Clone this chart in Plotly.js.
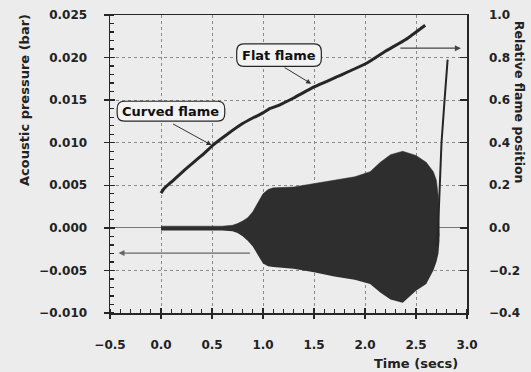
<!DOCTYPE html>
<html><head><meta charset="utf-8">
<script src="https://cdn.plot.ly/plotly-3.0.1.min.js"></script>
<style>html,body{margin:0;padding:0;background:#ececec;}</style>
</head><body>
<div id="chart" style="width:531px;height:372px;"></div>
<script>
// Flame position (right axis)
const flameTime = [0.00, 0.03, 0.10, 0.25, 0.40, 0.51, 0.65, 0.80, 0.90, 1.00, 1.07, 1.16, 1.30, 1.50, 1.75, 2.01, 2.20, 2.40, 2.59];
const flamePos  = [0.163, 0.185, 0.215, 0.28, 0.34, 0.389, 0.44, 0.49, 0.516, 0.54, 0.561, 0.577, 0.61, 0.662, 0.715, 0.772, 0.83, 0.885, 0.952];
// Flashback segment (right axis)
const jumpTime = [2.71, 2.73, 2.75, 2.78, 2.81];
const jumpPos  = [-0.08, 0.2, 0.4, 0.6, 0.79];
// Acoustic pressure envelope (left axis)
const pTime   = [0.00, 0.20, 0.40, 0.60, 0.70, 0.75, 0.80, 0.85, 0.90, 0.95, 1.00, 1.05, 1.10, 1.30, 1.50, 1.70, 1.90, 2.05, 2.15, 2.25, 2.37, 2.50, 2.60, 2.67, 2.70, 2.72, 2.73];
const pTop    = [0.0002, 0.0002, 0.0002, 0.0002, 0.0003, 0.0005, 0.0008, 0.0012, 0.0019, 0.0029, 0.0040, 0.0045, 0.0047, 0.0048, 0.0052, 0.0056, 0.0060, 0.0066, 0.0077, 0.0086, 0.0090, 0.0085, 0.0077, 0.0066, 0.0056, 0.0035, -0.0010];
const pBottom = [-0.0003, -0.0003, -0.0003, -0.0003, -0.0004, -0.0006, -0.0010, -0.0015, -0.0022, -0.0032, -0.0042, -0.0045, -0.0046, -0.0048, -0.0052, -0.0057, -0.0061, -0.0066, -0.0076, -0.0084, -0.0088, -0.0074, -0.0066, -0.0050, -0.0040, -0.0030, -0.0015];

const labels = {curved: 'Curved flame', flat: 'Flat flame'};

function rr(x0,x1,y0,y1,rx,ry){
  return `M${x0+rx},${y0} L${x1-rx},${y0} Q${x1},${y0} ${x1},${y0+ry} L${x1},${y1-ry} Q${x1},${y1} ${x1-rx},${y1} L${x0+rx},${y1} Q${x0},${y1} ${x0},${y1-ry} L${x0},${y0+ry} Q${x0},${y0} ${x0+rx},${y0} Z`;
}

const ink = '#262626';
const traces = [
  {x: pTime, y: pBottom, mode:'lines', line:{width:0, color:'#2e2e2e'}, hoverinfo:'skip', xaxis:'x', yaxis:'y'},
  {x: pTime, y: pTop, mode:'lines', line:{width:0.5, color:'#2e2e2e'}, fill:'tonexty', fillcolor:'#2e2e2e', hoverinfo:'skip', xaxis:'x', yaxis:'y'},
  {x: flameTime, y: flamePos, mode:'lines', line:{width:3, color:ink, shape:'spline', smoothing:0.4}, yaxis:'y2', hoverinfo:'skip'},
  {x: jumpTime, y: jumpPos, mode:'lines', line:{width:2, color:ink}, yaxis:'y2', hoverinfo:'skip'},
  {x:[-1], y:[-1], mode:'markers', marker:{opacity:0}, xaxis:'x2', yaxis:'y3', hoverinfo:'skip'}
];

const font = {family:'DejaVu Sans', size:12, color:'#222', weight:'bold'};
const layout = {
  width:531, height:372,
  margin:{l:110, r:64, t:15, b:59},
  paper_bgcolor:'#ececec', plot_bgcolor:'#ececec',
  showlegend:false,
  font: font,
  xaxis:{range:[-0.5,3.0], tick0:-0.5, dtick:0.5, tickformat:'.1f', ticks:'outside', ticklen:4, tickwidth:1.3, tickcolor:ink,
         showline:true, linecolor:ink, linewidth:1.5, mirror:true, zeroline:false,
         showgrid:true, gridcolor:'#8a8a8a', griddash:'dot', gridwidth:1,
         minor:{dtick:0.1, ticks:'inside', ticklen:4, tickcolor:ink, showgrid:false},
         ticklabelstandoff:16, tickfont:font},
  xaxis2:{range:[-0.5,3.0], overlaying:'x', anchor:'y', tick0:-0.5, dtick:0.5, ticks:'inside', ticklen:5, tickwidth:1.3, tickcolor:ink,
          showticklabels:false, showgrid:false, showline:false, zeroline:false},
  yaxis:{range:[-0.01,0.025], dtick:0.005, tickformat:'.3f', ticks:'outside', ticklen:5, tickwidth:1.3, tickcolor:ink,
         showline:true, linecolor:ink, linewidth:1.5, zeroline:true, zerolinecolor:'#777', zerolinewidth:1,
         showgrid:true, gridcolor:'#8a8a8a', griddash:'dot', gridwidth:1,
         minor:{dtick:0.001, ticks:'inside', ticklen:4, tickcolor:ink, showgrid:false},
         ticklabelstandoff:14, tickfont:font},
  yaxis3:{range:[-0.01,0.025], overlaying:'y', anchor:'x', side:'left', dtick:0.005, ticks:'inside', ticklen:5, tickwidth:1.3, tickcolor:ink,
          showticklabels:false, showgrid:false, showline:false, zeroline:false},
  yaxis2:{range:[-0.4,1.0], overlaying:'y', side:'right', anchor:'x', dtick:0.2, tickformat:'.1f', ticks:'inside', ticklen:7, tickwidth:1.3, tickcolor:ink,
          showline:true, linecolor:ink, linewidth:1.5, showgrid:false, zeroline:false, ticklabelstandoff:18, tickfont:font},
  shapes:[
    {type:'path', xref:'x', yref:'y', path: rr(-0.43, 0.625, 0.01253, 0.01487, 0.07, 0.0009), fillcolor:'#f3f3f3', line:{color:ink, width:1.2}, layer:'above'},
    {type:'path', xref:'x', yref:'y', path: rr(0.742, 1.572, 0.01897, 0.0216, 0.07, 0.0009), fillcolor:'#f3f3f3', line:{color:ink, width:1.2}, layer:'above'}
  ],
  annotations:[
    {xref:'x', yref:'y', x:0.0975, y:0.0137, text:labels.curved, showarrow:false, font:{family:'DejaVu Sans', size:13, color:'#111', weight:'bold'}},
    {xref:'x', yref:'y', x:1.157, y:0.02028, text:labels.flat, showarrow:false, font:{family:'DejaVu Sans', size:13, color:'#111', weight:'bold'}},
    {xref:'x', yref:'y', x:0.495, y:0.00972, ax:-40, ay:-22, text:'', showarrow:true, arrowhead:2, arrowsize:1, arrowwidth:1, arrowcolor:'#333'},
    {xref:'x', yref:'y', x:1.472, y:0.01694, ax:-28, ay:-17, text:'', showarrow:true, arrowhead:2, arrowsize:1, arrowwidth:1, arrowcolor:'#333'},
    {xref:'x', yref:'y', x:2.94, y:0.0211, ax:-62, ay:0, text:'', showarrow:true, arrowhead:2, arrowsize:1, arrowwidth:1.2, arrowcolor:'#444'},
    {xref:'x', yref:'y', x:-0.417, y:-0.00296, ax:133, ay:0, text:'', showarrow:true, arrowhead:2, arrowsize:1, arrowwidth:1.2, arrowcolor:'#666'},
    {xref:'paper', yref:'paper', x:-0.238, y:0.715, xanchor:'center', yanchor:'middle', textangle:-90, text:'Acoustic pressure (bar)', showarrow:false, font:{family:'DejaVu Sans', size:13, color:'#222', weight:'bold'}},
    {xref:'paper', yref:'paper', x:1.148, y:0.706, xanchor:'center', yanchor:'middle', textangle:90, text:'Relative flame position', showarrow:false, font:{family:'DejaVu Sans', size:12.5, color:'#222', weight:'bold'}},
    {xref:'paper', yref:'paper', x:0.857, y:-0.168, xanchor:'center', yanchor:'middle', text:'Time (secs)', showarrow:false, font:{family:'DejaVu Sans', size:13, color:'#222', weight:'bold'}}
  ]
};
Plotly.newPlot('chart', traces, layout, {staticPlot:true, displayModeBar:false});
</script>
</body></html>
